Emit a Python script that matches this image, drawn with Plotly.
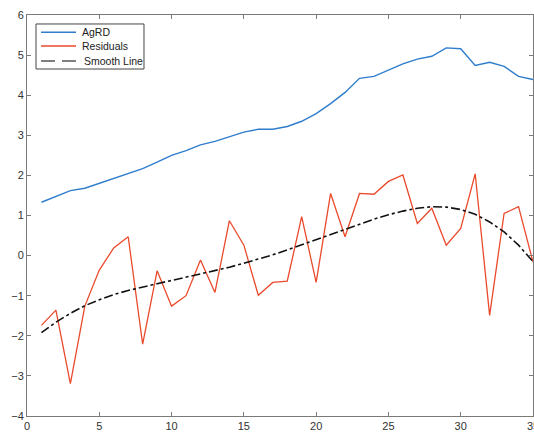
import plotly.graph_objects as go

x_vals = list(range(1, 36))

agrd = [1.33, 1.47, 1.62, 1.68, 1.80, 1.92, 2.05, 2.17, 2.33, 2.50, 2.62, 2.76, 2.85, 2.96, 3.08,
        3.15, 3.15, 3.22, 3.35, 3.54, 3.79, 4.07, 4.42, 4.47, 4.63, 4.78, 4.90, 4.97, 5.18, 5.16,
        4.74, 4.82, 4.72, 4.47, 4.39]

residuals = [-1.74, -1.36, -3.19, -1.26, -0.36, 0.19, 0.47, -2.21, -0.38, -1.26, -1.00, -0.11, -0.92,
             0.87, 0.26, -0.99, -0.67, -0.64, 0.97, -0.67, 1.55, 0.47, 1.55, 1.53, 1.85, 2.01, 0.80,
             1.18, 0.26, 0.68, 2.04, -1.49, 1.05, 1.22, -0.16]

smooth = [-1.92, -1.66, -1.44, -1.25, -1.10, -0.97, -0.87, -0.78, -0.70, -0.62, -0.54, -0.46, -0.38,
          -0.29, -0.19, -0.09, 0.02, 0.14, 0.27, 0.40, 0.53, 0.66, 0.79, 0.91, 1.02, 1.11, 1.18,
          1.22, 1.21, 1.15, 1.03, 0.84, 0.59, 0.26, -0.15]

x_ticks = [0, 5, 10, 15, 20, 25, 30, 35]
y_ticks = [-4, -3, -2, -1, 0, 1, 2, 3, 4, 5, 6]

series_names = ["AgRD", "Residuals", "Smooth Line"]
series_colors = ["#2f7dcc", "#ea4a2c", "#111111"]

fig = go.Figure()
fig.add_trace(go.Scatter(x=x_vals, y=agrd, mode="lines", name=series_names[0],
                         line=dict(color=series_colors[0], width=1.4)))
fig.add_trace(go.Scatter(x=x_vals, y=residuals, mode="lines", name=series_names[1],
                         line=dict(color=series_colors[1], width=1.3)))
fig.add_trace(go.Scatter(x=x_vals, y=smooth, mode="lines", name=series_names[2],
                         line=dict(color=series_colors[2], width=1.6, dash="dashdot")))

axis_common = dict(showline=True, linecolor="#7a7a7a", linewidth=1, mirror="ticks",
                   ticks="inside", ticklen=4, tickcolor="#7a7a7a", showgrid=False,
                   zeroline=False, ticklabeloverflow="allow", automargin=False,
                   tickfont=dict(family="Arial", size=11, color="#333333"))

# Manual legend (MATLAB-like compact box), in paper coordinates
shapes = [dict(type="rect", xref="paper", yref="paper", x0=0.0178, x1=0.2312, y0=0.8653, y1=0.9776,
               line=dict(color="#444444", width=1), fillcolor="white", layer="above")]
annotations = []
rows_y = [0.9569, 0.9227, 0.8853]
legend_dash = ["solid", "solid", "14px,7px"]
legend_color = ["#2f7dcc", "#ea4a2c", "#555555"]
text_x = [0.1047, 0.1047, 0.1087]
for name, yy, dsh, col, tx in zip(series_names, rows_y, legend_dash, legend_color, text_x):
    shapes.append(dict(type="line", xref="paper", yref="paper", x0=0.0277, x1=0.0968, y0=yy, y1=yy,
                       line=dict(color=col, width=1.5, dash=dsh), layer="above"))
    annotations.append(dict(xref="paper", yref="paper", x=tx, y=yy, text=name, showarrow=False,
                            xanchor="left", yanchor="middle",
                            font=dict(family="Arial", size=10.5, color="#222222")))

fig.update_layout(
    width=534, height=434,
    margin=dict(l=27, r=1, t=15, b=18),
    paper_bgcolor="white", plot_bgcolor="white",
    xaxis=dict(range=[0, 35], tickvals=x_ticks, **axis_common),
    yaxis=dict(range=[-4, 6], tickvals=y_ticks, **axis_common),
    showlegend=False,
    shapes=shapes,
    annotations=annotations,
)

fig.write_html("out.html")
